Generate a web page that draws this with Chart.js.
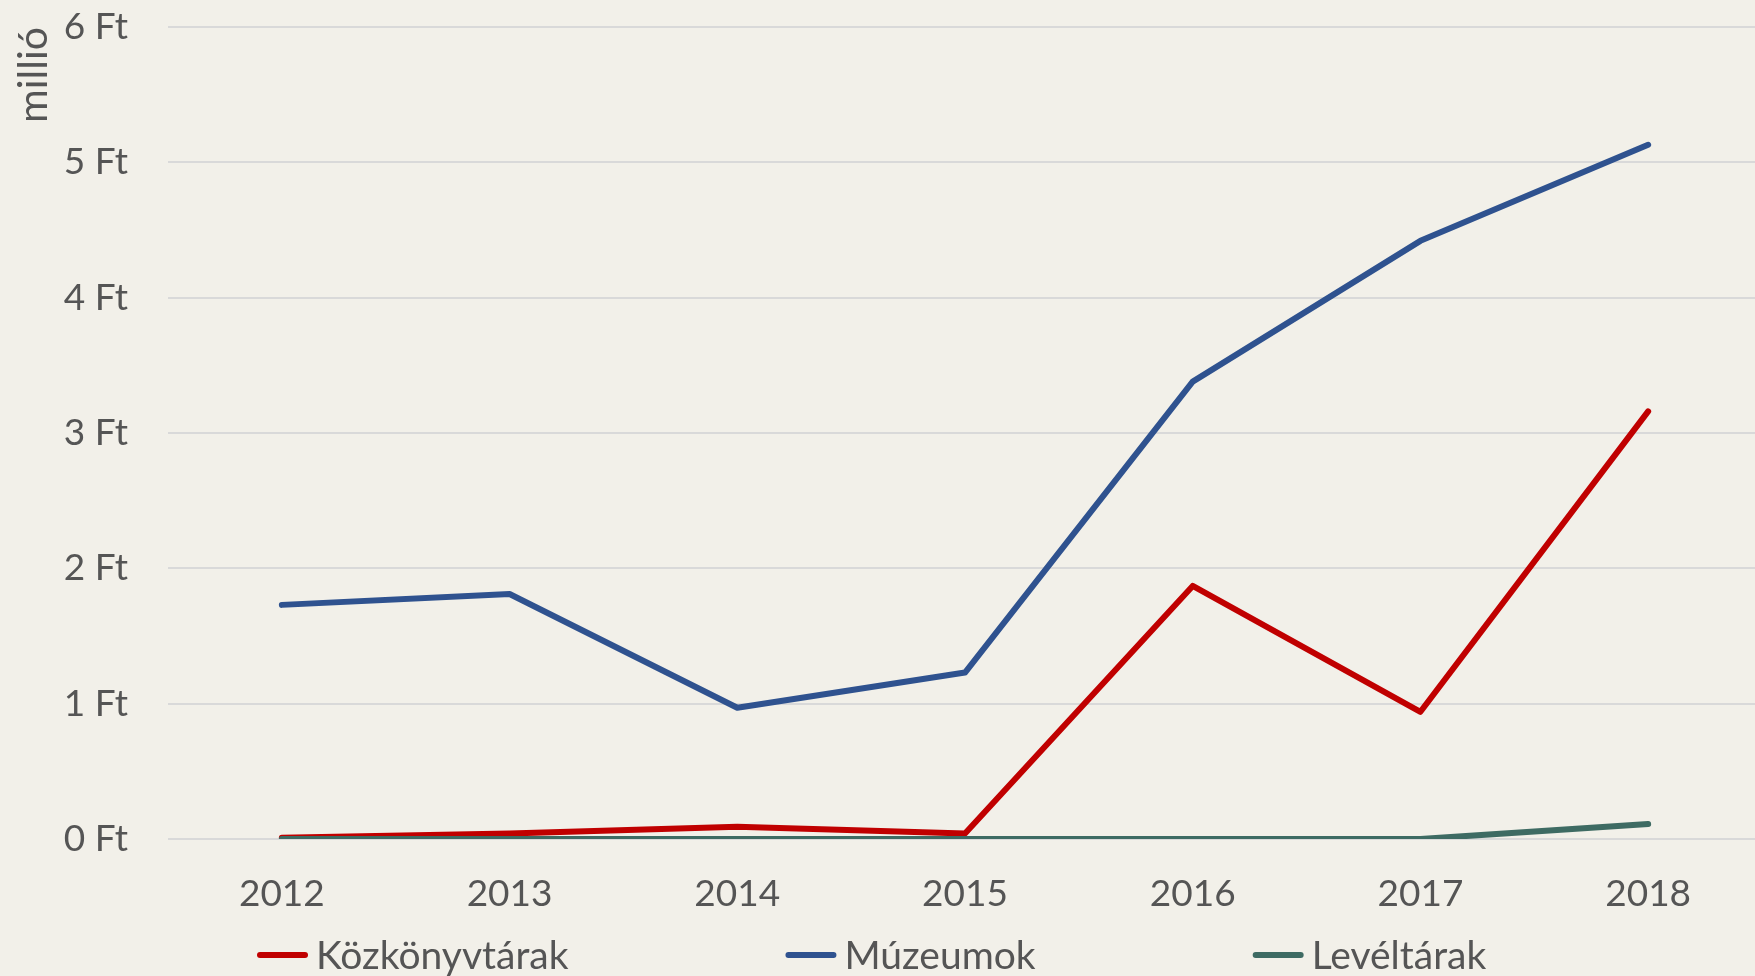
<!DOCTYPE html>
<html>
<head>
<meta charset="utf-8">
<script src="https://cdn.jsdelivr.net/npm/chart.js@4/dist/chart.umd.min.js"></script>
<style>
  html, body { margin: 0; padding: 0; background: #F2F0E9; overflow: hidden; }
  #wrap { width: 1762px; height: 976px; }
</style>
</head>
<body>
<div id="wrap"><canvas id="lineCanvas"></canvas></div>
<script>
const annees = ['2012', '2013', '2014', '2015', '2016', '2017', '2018'];
const kozkonyvtarak = [0.01, 0.04, 0.09, 0.04, 1.87, 0.94, 3.16];
const muzeumok = [1.73, 1.81, 0.97, 1.23, 3.38, 4.42, 5.13];
const leveltarak = [0, 0, 0, 0, 0, 0, 0.11];
const nomsSeries = ['Közkönyvtárak', 'Múzeumok', 'Levéltárak'];
const couleurs = ['#C00000', '#2F528F', '#3E6B63'];
const yTicks = [0, 1, 2, 3, 4, 5, 6];

const police = 'Lato, "Open Sans", sans-serif';
const taille = 37;
const gris = '#555555';

// legende en bas, dessinee a la main pour garder l'espacement d'Excel
const legendeBas = {
    id: 'legendeBas',
    afterDraw(chart) {
        const ctx = chart.ctx;
        const longTrait = 51;
        const ecartTexte = 8;
        const ecartItems = 217;
        ctx.save();
        ctx.font = '39px ' + police;
        ctx.textBaseline = 'middle';
        let x = 257;
        const y = 955;
        chart.data.datasets.forEach(d => {
            ctx.strokeStyle = d.borderColor;
            ctx.lineWidth = 6;
            ctx.lineCap = 'round';
            ctx.beginPath();
            ctx.moveTo(x + 3, y);
            ctx.lineTo(x + longTrait - 3, y);
            ctx.stroke();
            ctx.fillStyle = gris;
            ctx.fillText(d.label, x + longTrait + ecartTexte, y + 1);
            x += longTrait + ecartTexte + ctx.measureText(d.label).width + ecartItems;
        });
        ctx.restore();
    }
};

const valeurs = [kozkonyvtarak, muzeumok, leveltarak];
const ordres = [3, 2, 1];

new Chart(document.getElementById('lineCanvas').getContext('2d'), {
    type: 'line',
    data: {
        labels: annees,
        datasets: nomsSeries.map((nom, i) => ({
            label: nom,
            data: valeurs[i],
            borderColor: couleurs[i],
            backgroundColor: couleurs[i],
            borderWidth: 6,
            borderCapStyle: 'round',
            borderJoinStyle: 'round',
            pointRadius: 0,
            tension: 0,
            order: ordres[i]
        }))
    },
    options: {
        responsive: true,
        maintainAspectRatio: false,
        animation: false,
        layout: { padding: { left: 9, right: 0, top: 27, bottom: 61 } },
        plugins: {
            legend: { display: false },
            tooltip: { enabled: false }
        },
        scales: {
            x: {
                offset: true,
                grid: { display: false, drawTicks: false },
                border: { display: false },
                ticks: {
                    color: gris,
                    padding: 33,
                    font: { family: police, size: taille }
                },
                afterFit: axis => {
                    axis.height = 76;
                    axis.paddingLeft = 0;
                    axis.paddingRight = 0;
                }
            },
            y: {
                min: 0,
                max: 6,
                afterBuildTicks: axis => { axis.ticks = yTicks.map(v => ({ value: v })); },
                grid: { color: '#D9D9D9', lineWidth: 2, drawTicks: false },
                border: { display: false },
                ticks: {
                    color: gris,
                    padding: 40,
                    font: { family: police, size: taille },
                    callback: v => v + ' Ft'
                },
                title: {
                    display: true,
                    text: 'millió',
                    align: 'end',
                    color: gris,
                    padding: { top: 0, bottom: 9 },
                    font: { family: police, size: 41 }
                },
                afterFit: axis => {
                    axis.width = 159;
                    axis.paddingTop = 0;
                    axis.paddingBottom = 0;
                }
            }
        }
    },
    plugins: [legendeBas]
});
</script>
</body>
</html>
